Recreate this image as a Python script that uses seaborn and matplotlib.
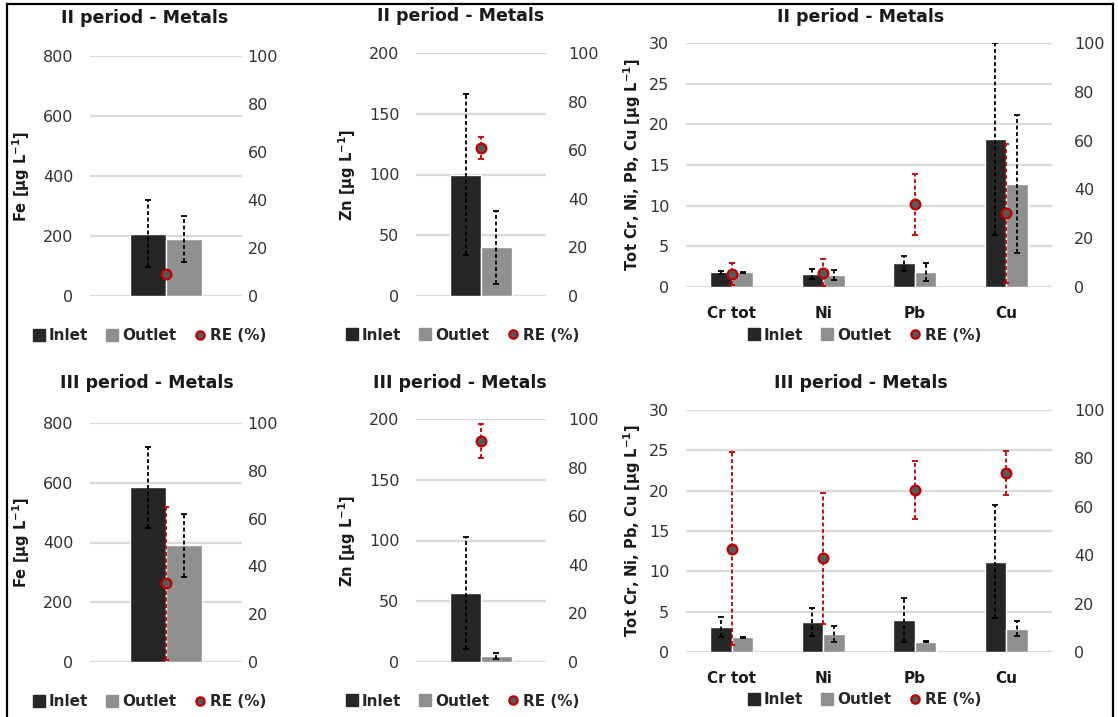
import numpy as np
import pandas as pd
import matplotlib
matplotlib.use("Agg")
import matplotlib.pyplot as plt
from matplotlib.lines import Line2D
from matplotlib.patches import Rectangle
import seaborn as sns

# ---------------- data ----------------
period_titles = ["II period - Metals", "III period - Metals"]
stream_labels = ["Inlet", "Outlet"]
trace_metals = ["Cr tot", "Ni", "Pb", "Cu"]

# Fe [µg/L], per period (II, III)
fe_inlet = [208, 585]
fe_inlet_sd = [112, 135]
fe_outlet = [190, 390]
fe_outlet_sd = [78, 107]
fe_re = [9, 33]
fe_re_sd = [0, 32]

# Zn [µg/L], per period (II, III)
zn_inlet = [100, 57]
zn_inlet_sd = [66, 46]
zn_outlet = [40, 5]
zn_outlet_sd = [30, 2.5]
zn_re = [61, 91]
zn_re_sd = [4.5, 7]

# Tot Cr, Ni, Pb, Cu [µg/L] - II period
tm2_inlet = [1.8, 1.6, 2.9, 18.2]
tm2_inlet_sd = [0.2, 0.65, 0.9, 11.8]
tm2_outlet = [1.8, 1.5, 1.8, 12.7]
tm2_outlet_sd = [0.1, 0.6, 1.1, 8.5]
tm2_re = [5.5, 5.8, 34, 30.3]
tm2_re_sd = [4.5, 5.5, 12.5, 28.5]

# Tot Cr, Ni, Pb, Cu [µg/L] - III period
tm3_inlet = [3.1, 3.7, 4.0, 11.2]
tm3_inlet_sd = [1.3, 1.7, 2.7, 7.0]
tm3_outlet = [1.8, 2.2, 1.3, 2.9]
tm3_outlet_sd = [0.1, 1.0, 0.1, 0.9]
tm3_re = [42.7, 38.7, 67, 74]
tm3_re_sd = [40, 27, 12, 9]

# ---------------- style ----------------
sns.set_theme(style="white")
plt.rcParams["font.family"] = ["DejaVu Sans"]
plt.rcParams["mathtext.fontset"] = "dejavusans"
plt.rcParams["mathtext.default"] = "bf"

INLET_C = "#262626"
OUTLET_C = "#8f8f8f"
RE_FILL = "#595959"
RE_EDGE = "#c00000"
GRID_C = "#d9d9d9"
TICK_C = "#333333"

W, H = 1118, 717
fig = plt.figure(figsize=(W / 100, H / 100), dpi=100)


def fx(x):
    return x / W


def fy(y):
    return 1 - y / H


def dashed_errorbar(ax, x, y, err, color, lw=1.3):
    x = np.asarray(x, float)
    y = np.asarray(y, float)
    err = np.asarray(err, float)
    keep = err > 0
    if not keep.any():
        return
    eb = ax.errorbar(x[keep], y[keep], yerr=err[keep], fmt="none", ecolor=color,
                     elinewidth=lw, capsize=2.5, capthick=lw, zorder=4)
    for lc in eb[2]:
        lc.set_linestyle((0, (2.2, 1.4)))


def draw_panel(box, cats, inlet, inlet_sd, outlet, outlet_sd, re, re_sd,
               ymax, ystep, ylabel, ylabel_x, right_pad, title, title_xy,
               legend_xy, show_cats):
    left, top, right, bottom = box
    ax = fig.add_axes([fx(left), fy(bottom), fx(right) - fx(left), fy(top) - fy(bottom)])

    df = pd.DataFrame({
        "metal": list(cats) * 2,
        "stream": [stream_labels[0]] * len(cats) + [stream_labels[1]] * len(cats),
        "value": list(inlet) + list(outlet),
    })
    sns.barplot(data=df, x="metal", y="value", hue="stream", order=cats,
                hue_order=stream_labels, palette=[INLET_C, OUTLET_C],
                width=0.47, saturation=1, errorbar=None, legend=False, ax=ax,
                zorder=2)

    # bar centres taken from the drawn containers
    in_x = [p.get_x() + p.get_width() / 2 for p in ax.containers[0]]
    out_x = [p.get_x() + p.get_width() / 2 for p in ax.containers[1]]
    dashed_errorbar(ax, in_x, inlet, inlet_sd, "black")
    dashed_errorbar(ax, out_x, outlet, outlet_sd, "black")

    ax.set_ylim(0, ymax)
    ax.set_yticks(np.arange(0, ymax + 0.001, ystep))
    ax.set_xlim(-0.5, len(cats) - 0.5)
    ax.yaxis.grid(True, color=GRID_C, lw=1.6)
    ax.xaxis.grid(False)
    ax.set_axisbelow(True)
    for s in ax.spines.values():
        s.set_visible(False)
    ax.set_xlabel("")
    ax.set_ylabel(ylabel, fontsize=10.5, fontweight="bold", color="#1a1a1a")
    ax.yaxis.set_label_coords((ylabel_x - left) / (right - left), 0.5)
    ax.tick_params(axis="y", length=0, pad=12, labelsize=11.5, labelcolor=TICK_C)
    ax.tick_params(axis="x", length=0, pad=14, labelsize=11, labelcolor="#1a1a1a")
    if show_cats:
        for lbl in ax.get_xticklabels():
            lbl.set_fontweight("bold")
    else:
        ax.set_xticklabels([])

    ax2 = ax.twinx()
    ax2.set_ylim(0, 100)
    ax2.set_yticks(np.arange(0, 101, 20))
    ax2.grid(False)
    for s in ax2.spines.values():
        s.set_visible(False)
    ax2.tick_params(axis="y", length=0, pad=right_pad, labelsize=11.5, labelcolor=TICK_C)
    re_x = np.arange(len(cats))
    dashed_errorbar(ax2, re_x, re, re_sd, RE_EDGE)
    ax2.plot(re_x, re, ls="none", marker="o", ms=7, mfc=RE_FILL, mec=RE_EDGE,
             mew=1.6, zorder=5)

    fig.text(fx(title_xy[0]), fy(title_xy[1]), title, ha="center", va="center",
             fontsize=12.5, fontweight="bold", color="#1a1a1a")

    handles = [
        Line2D([], [], ls="none", marker="s", ms=8, mfc=INLET_C, mec=INLET_C),
        Line2D([], [], ls="none", marker="s", ms=8, mfc=OUTLET_C, mec=OUTLET_C),
        Line2D([], [], ls="none", marker="o", ms=6, mfc=RE_FILL, mec=RE_EDGE, mew=1.6),
    ]
    fig.legend(handles, stream_labels + ["RE (%)"], loc="center",
               bbox_to_anchor=(fx(legend_xy[0]), fy(legend_xy[1])), ncol=3,
               frameon=False, handlelength=0.7, handletextpad=0.3,
               columnspacing=1.2, prop={"weight": "bold", "size": 11})
    return ax


ylab_fe = "Fe [µg L$^{-1}$]"
ylab_zn = "Zn [µg L$^{-1}$]"
ylab_tm = "Tot Cr, Ni, Pb, Cu [µg L$^{-1}$]"

# II period
draw_panel((90, 56, 242, 296), ["Fe"], [fe_inlet[0]], [fe_inlet_sd[0]],
           [fe_outlet[0]], [fe_outlet_sd[0]], [fe_re[0]], [fe_re_sd[0]],
           800, 200, ylab_fe, 32, 4, period_titles[0], (145, 18), (150, 336), False)
draw_panel((416, 53, 546, 296), ["Zn"], [zn_inlet[0]], [zn_inlet_sd[0]],
           [zn_outlet[0]], [zn_outlet_sd[0]], [zn_re[0]], [zn_re_sd[0]],
           200, 50, ylab_zn, 358, 16, period_titles[0], (461, 16), (463, 335), False)
draw_panel((686, 43, 1052, 287), trace_metals, tm2_inlet, tm2_inlet_sd,
           tm2_outlet, tm2_outlet_sd, tm2_re, tm2_re_sd,
           30, 5, ylab_tm, 643, 16, period_titles[0], (861, 17), (865, 335), True)

# III period
draw_panel((90, 423, 242, 662), ["Fe"], [fe_inlet[1]], [fe_inlet_sd[1]],
           [fe_outlet[1]], [fe_outlet_sd[1]], [fe_re[1]], [fe_re_sd[1]],
           800, 200, ylab_fe, 32, 4, period_titles[1], (147, 383), (150, 702), False)
draw_panel((416, 419, 546, 662), ["Zn"], [zn_inlet[1]], [zn_inlet_sd[1]],
           [zn_outlet[1]], [zn_outlet_sd[1]], [zn_re[1]], [zn_re_sd[1]],
           200, 50, ylab_zn, 358, 16, period_titles[1], (460, 383), (463, 701), False)
draw_panel((686, 410, 1052, 652), trace_metals, tm3_inlet, tm3_inlet_sd,
           tm3_outlet, tm3_outlet_sd, tm3_re, tm3_re_sd,
           30, 5, ylab_tm, 643, 16, period_titles[1], (861, 383), (865, 700), True)

# outer frame (open at the bottom edge)
frame = Rectangle((fx(7), fy(730)), fx(1113) - fx(7), fy(4) - fy(730),
                  transform=fig.transFigure, fill=False, ec="black", lw=1.6,
                  clip_on=False)
fig.add_artist(frame)

fig.savefig("out.png", dpi=100)
